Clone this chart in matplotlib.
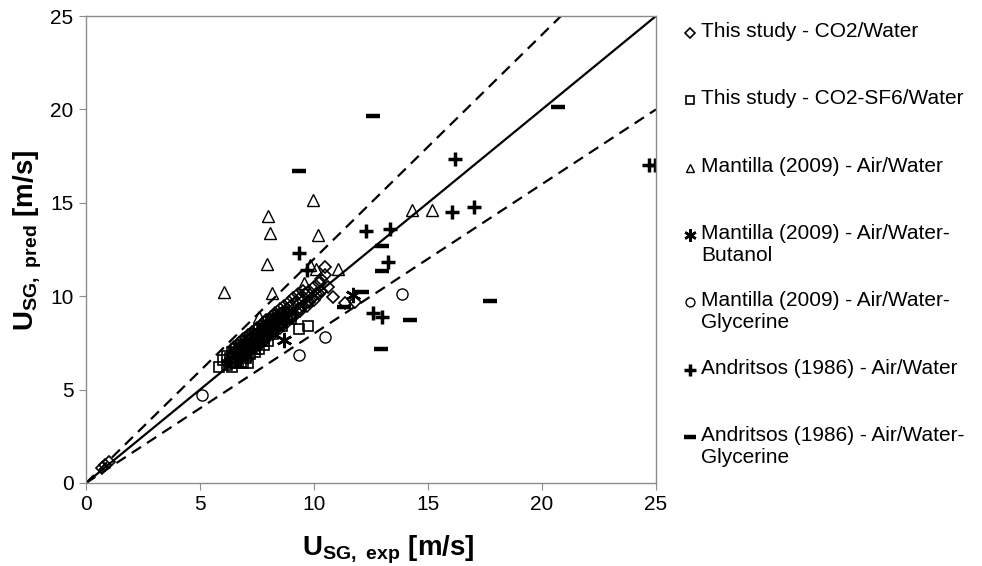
import matplotlib
matplotlib.use("Agg")
import matplotlib.pyplot as plt
from matplotlib.lines import Line2D

plt.rcParams['font.family'] = ['Liberation Sans', 'DejaVu Sans']
plt.rcParams['mathtext.fontset'] = 'custom'
plt.rcParams['mathtext.rm'] = 'Liberation Sans'
plt.rcParams['mathtext.bf'] = 'Liberation Sans:bold'

# This study - CO2/Water (diamonds)
co2_x = [0.7, 0.85, 1.0, 6.6, 6.8, 7.0, 7.2, 7.4, 7.6, 7.8, 8.0, 8.2, 8.4, 8.6, 8.8, 9.0,
         9.2, 9.4, 9.6, 9.8, 10.0, 10.2, 7.1, 7.3, 7.5, 7.7, 7.9, 8.1, 8.3, 8.5, 8.7, 8.9,
         9.1, 9.3, 9.5, 9.7, 9.9, 10.1, 10.3, 7.6, 7.9, 8.2, 8.5, 8.8, 9.1, 9.4, 9.7, 10.0,
         10.48, 10.48, 10.6, 10.85, 11.36, 11.8, 10.3,
         6.5, 6.7, 6.9, 7.1, 7.3, 7.5, 7.7, 7.9, 8.1, 8.3, 8.5, 8.7, 8.9, 9.1, 9.3, 9.5,
         7.0, 7.4, 7.8, 8.2, 8.6, 9.0, 9.4, 9.8, 10.2]
co2_y = [0.8, 0.95, 1.1, 7.0, 7.2, 7.5, 7.7, 7.9, 8.1, 8.3, 8.5, 8.7, 8.9, 9.1, 9.3, 9.5,
         9.7, 9.9, 10.1, 10.3, 10.5, 10.7, 7.1, 7.3, 7.5, 7.7, 7.9, 8.1, 8.3, 8.5, 8.7, 8.9,
         9.1, 9.3, 9.5, 9.7, 9.9, 10.1, 10.3, 7.4, 7.7, 8.0, 8.3, 8.6, 8.9, 9.2, 9.5, 9.8,
         11.58, 11.13, 10.5, 9.97, 9.62, 9.7, 10.9,
         7.3, 7.5, 7.7, 7.9, 8.1, 8.3, 8.5, 8.7, 8.9, 9.1, 9.3, 9.5, 9.7, 9.9, 10.1, 10.3,
         6.9, 7.3, 7.7, 8.1, 8.5, 8.9, 9.3, 9.7, 10.1]

# This study - CO2-SF6/Water (squares)
sf6_x = [5.85, 6.2, 6.3, 6.4, 6.5, 6.5, 6.6, 6.7, 6.8, 6.9, 7.0, 7.0, 7.1, 7.2, 7.3, 7.4,
         7.5, 7.6, 7.7, 7.8, 7.9, 8.0, 8.1, 8.2, 8.3, 8.4, 8.5, 8.6, 8.8, 9.0, 6.3, 6.5,
         6.7, 6.9, 7.1, 7.3, 7.5, 7.7, 7.9, 8.1, 8.3, 8.5, 8.7, 6.4, 6.6, 6.8, 7.0, 7.2,
         7.4, 7.6, 7.8, 8.0, 9.34, 9.72, 7.1, 6.9,
         6.0, 6.2, 6.4, 6.6, 6.8, 7.0, 7.2, 7.4, 7.6, 7.8, 8.0, 8.2, 8.4,
         6.6, 7.0, 7.4, 7.8, 8.2, 8.6, 9.0]
sf6_y = [6.23, 6.3, 6.4, 6.5, 6.5, 6.7, 6.6, 6.8, 6.9, 6.9, 7.0, 7.2, 7.1, 7.2, 7.3, 7.4,
         7.5, 7.6, 7.8, 7.8, 8.0, 8.1, 8.1, 8.3, 8.4, 8.5, 8.6, 8.7, 8.9, 9.0, 6.7, 6.9,
         7.1, 7.3, 7.5, 7.7, 7.9, 8.1, 8.3, 8.5, 8.7, 8.9, 9.1, 6.2, 6.4, 6.5, 6.7, 6.9,
         7.0, 7.2, 7.4, 7.6, 8.24, 8.4, 6.45, 6.4,
         6.6, 6.8, 7.0, 7.2, 7.4, 7.6, 7.8, 8.0, 8.2, 8.4, 8.6, 8.8, 9.0,
         6.4, 6.8, 7.2, 7.6, 8.0, 8.4, 8.8]

# Mantilla (2009) - Air/Water (triangles)
man_w_x = [9.97, 8.0, 8.07, 10.16, 7.92, 9.82, 11.04, 10.09, 9.58, 8.17, 6.07, 7.59, 14.28, 15.19]
man_w_y = [15.15, 14.3, 13.37, 13.28, 11.71, 11.67, 11.46, 11.44, 10.69, 10.16, 10.24, 8.9, 14.6, 14.6]

# Mantilla (2009) - Air/Water-Butanol
man_b_x = [8.68, 11.73]
man_b_y = [7.66, 10.06]

# Mantilla (2009) - Air/Water-Glycerine
man_g_x = [5.07, 9.36, 10.48, 13.87]
man_g_y = [4.71, 6.85, 7.8, 10.12]

# Andritsos (1986) - Air/Water
and_w_x = [12.28, 13.33, 16.18, 16.07, 17.0, 13.23, 12.6, 13.0, 9.36, 9.68, 24.7, 24.95]
and_w_y = [13.49, 13.6, 17.34, 14.52, 14.78, 11.85, 9.08, 8.87, 12.3, 11.4, 17.0, 17.0]

# Andritsos (1986) - Air/Water-Glycerine
and_g_x = [9.36, 12.57, 20.7, 13.0, 12.97, 17.7, 14.2, 12.94, 11.3, 12.1]
and_g_y = [16.7, 19.66, 20.15, 12.7, 11.37, 9.76, 8.73, 7.17, 9.4, 10.24]

ref_x = [0, 25]
bands = [1.2, 0.8]

labels = ['This study - CO2/Water', 'This study - CO2-SF6/Water',
          'Mantilla (2009) - Air/Water', 'Mantilla (2009) - Air/Water-\nButanol',
          'Mantilla (2009) - Air/Water-\nGlycerine', 'Andritsos (1986) - Air/Water',
          'Andritsos (1986) - Air/Water-\nGlycerine']

styles = [dict(marker='D', ms=6.5, mfc='none', mec='black', mew=1.2),
          dict(marker='s', ms=6.5, mfc='none', mec='black', mew=1.2),
          dict(marker='^', ms=8, mfc='none', mec='black', mew=1.0),
          dict(marker=(6, 2, 0), ms=11, mfc='none', mec='black', mew=1.8),
          dict(marker='o', ms=8, mfc='none', mec='black', mew=1.0),
          dict(marker='+', ms=10, mec='black', mew=2.5),
          dict(marker='_', ms=10, mec='black', mew=3.2)]
series = [(co2_x, co2_y), (sf6_x, sf6_y), (man_w_x, man_w_y), (man_b_x, man_b_y),
          (man_g_x, man_g_y), (and_w_x, and_w_y), (and_g_x, and_g_y)]

fig = plt.figure(figsize=(9.82, 5.66), dpi=100)
ax = fig.add_axes([86 / 982, 1 - 483 / 566, 570 / 982, 467 / 566])

for (sx, sy), st in zip(series, styles):
    ax.plot(sx, sy, linestyle='none', **st)

ax.plot(ref_x, ref_x, color='black', lw=1.6)
for b in bands:
    ax.plot(ref_x, [v * b for v in ref_x], color='black', lw=1.6, dashes=(5, 3.2))

ax.set_xlim(0, 25)
ax.set_ylim(0, 25)
ax.set_xticks(range(0, 26, 5))
ax.set_yticks(range(0, 26, 5))
for s in ax.spines.values():
    s.set_color('#8c8c8c')
    s.set_linewidth(1)
ax.tick_params(direction='out', length=5, color='#8c8c8c', labelsize=15,
               labelcolor='black', pad=4)

fig.text(388 / 982, 1 - 550 / 566, r'$\mathbf{U_{SG,\ exp}}$ [m/s]', fontsize=20,
         fontweight='bold', ha='center', va='center')
fig.text(28 / 982, 1 - 240 / 566, r'$\mathbf{U_{SG,\ pred}}$ [m/s]', fontsize=20,
         fontweight='bold', ha='center', va='center', rotation=90)

# legend drawn by hand so each marker sits on the first text line
leg_y = [33, 100, 168, 235, 302, 370, 437]
for lab, st, yy in zip(labels, styles, leg_y):
    lst = dict(st)
    lst['ms'] = st['ms'] * 0.8
    fig.add_artist(Line2D([690 / 982], [1 - yy / 566], transform=fig.transFigure,
                          linestyle='none', **lst))
    fig.text(701 / 982, 1 - (yy - 11) / 566, lab, fontsize=15, ha='left', va='top',
             linespacing=1.2)

fig.savefig('out.png', dpi=100)
